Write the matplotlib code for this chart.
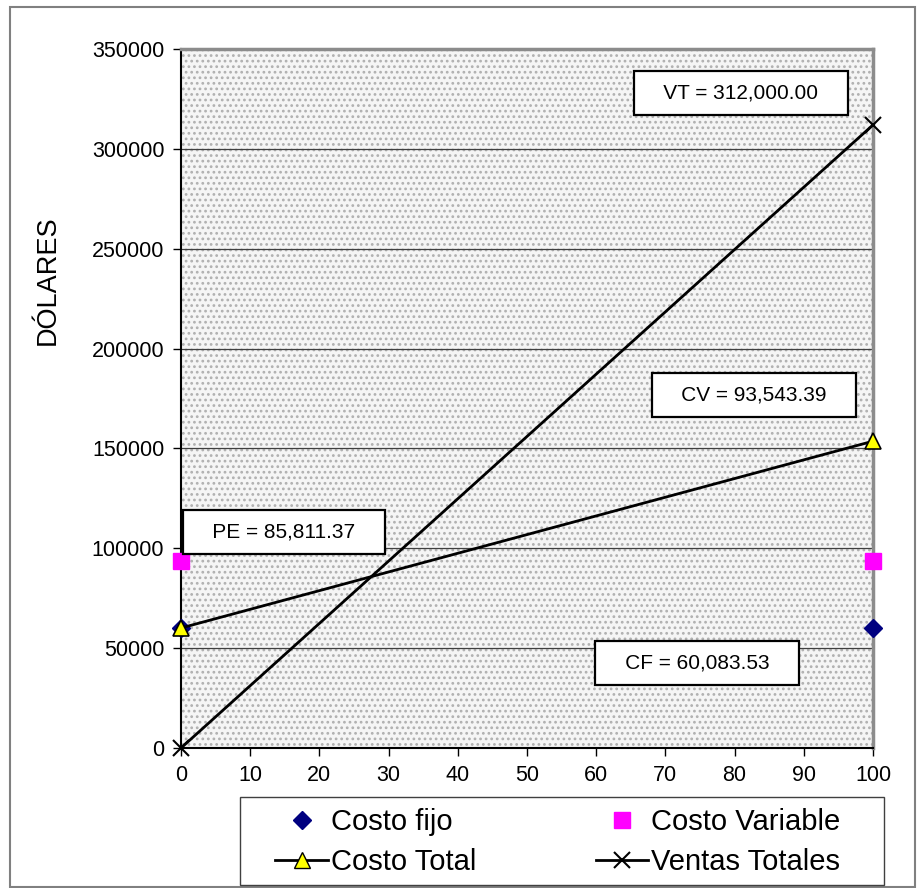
import matplotlib
matplotlib.use('Agg')
from matplotlib import pyplot as plt
from matplotlib.patches import Rectangle
from matplotlib.lines import Line2D

# data
units = [0, 100]
costo_fijo = [60083.53, 60083.53]
costo_variable = [93543.39, 93543.39]
costo_total = [60083.53, 153626.92]
ventas_totales = [0, 312000.00]

x_ticks = list(range(0, 101, 10))
y_ticks = list(range(0, 350001, 50000))

# annotation boxes: (text, x, y) in data units
notes = [
    ('VT = 312,000.00', 80.9, 328000),
    ('CV = 93,543.39', 82.8, 176700),
    ('PE = 85,811.37', 14.9, 108100),
    ('CF = 60,083.53', 74.6, 42500),
]

plt.rcParams['font.family'] = ['Liberation Sans', 'DejaVu Sans']

fig = plt.figure(figsize=(9.17, 8.88), dpi=100)
fig.patches.append(Rectangle((10 / 917, 1 / 888), 905 / 917, 880 / 888,
                             transform=fig.transFigure, fill=False,
                             edgecolor='#808080', linewidth=1.5))

ax = fig.add_axes([181 / 917, 1 - 748 / 888, 692 / 917, 699 / 888])

# dotted plot-area background
ax.set_facecolor('#f5f5f5')
plt.rcParams['hatch.linewidth'] = 1.2
ax.add_patch(Rectangle((0, 0), 1, 1, transform=ax.transAxes, facecolor='none',
                       edgecolor='#b0b0b0', hatch='...', linewidth=0, zorder=0))

for yv in y_ticks[1:]:
    ax.axhline(yv, color='#404040', linewidth=0.9, zorder=1)

ax.plot(units, costo_fijo, linestyle='none', marker='D', markersize=9,
        color='#000080', clip_on=False, zorder=5)
ax.plot(units, costo_variable, linestyle='none', marker='s', markersize=11,
        color='#ff00ff', clip_on=False, zorder=5)
ax.plot(units, costo_total, color='black', linewidth=2, marker='^', markersize=11,
        markerfacecolor='#ffff00', markeredgecolor='black', markeredgewidth=1.2,
        clip_on=False, zorder=6)
ax.plot(units, ventas_totales, color='black', linewidth=2, marker='x', markersize=11,
        markeredgewidth=1.5, clip_on=False, zorder=6)

for txt, xv, yv in notes:
    ax.text(xv, yv, '   ' + txt + '   ', ha='center', va='center', fontsize=15,
            zorder=8, bbox=dict(boxstyle='square,pad=0.6', facecolor='white',
                                edgecolor='black', linewidth=1.6))

ax.set_xlim(0, 100)
ax.set_ylim(0, 350000)
ax.set_xticks(x_ticks)
ax.set_yticks(y_ticks)
ax.tick_params(axis='both', labelsize=15.5, length=6, width=1, direction='out',
               color='black', pad=6)

for side in ['left', 'bottom']:
    ax.spines[side].set_color('black')
    ax.spines[side].set_linewidth(1.5)
for side in ['top', 'right']:
    ax.spines[side].set_color('#8c8c8c')
    ax.spines[side].set_linewidth(2.5)

fig.text(48 / 917, 1 - 280 / 888, 'DÓLARES', rotation=90, ha='center',
         va='center', fontsize=19.5)

# legend frame drawn on its own, entries centred inside it
fig.patches.append(Rectangle((240 / 917, 3 / 888), 644 / 917, 88 / 888,
                             transform=fig.transFigure, facecolor='white',
                             edgecolor='#404040', linewidth=1.0))
handles = [
    Line2D([], [], linestyle='none', marker='D', markersize=9, color='#000080'),
    Line2D([], [], color='black', linewidth=2, marker='^', markersize=11,
           markerfacecolor='#ffff00', markeredgecolor='black'),
    Line2D([], [], linestyle='none', marker='s', markersize=11, color='#ff00ff'),
    Line2D([], [], color='black', linewidth=2, marker='x', markersize=11,
           markeredgewidth=1.5),
]
labels = ['Costo fijo', 'Costo Total', 'Costo Variable', 'Ventas Totales']
fig.legend(handles, labels, ncol=2, loc='center',
           bbox_to_anchor=(558 / 917, 1 - 842 / 888),
           fontsize=21, frameon=False, borderpad=0, labelspacing=0.42,
           handlelength=1.8, handletextpad=0.1, borderaxespad=0,
           columnspacing=4.1)

fig.savefig('out.png', dpi=100)
